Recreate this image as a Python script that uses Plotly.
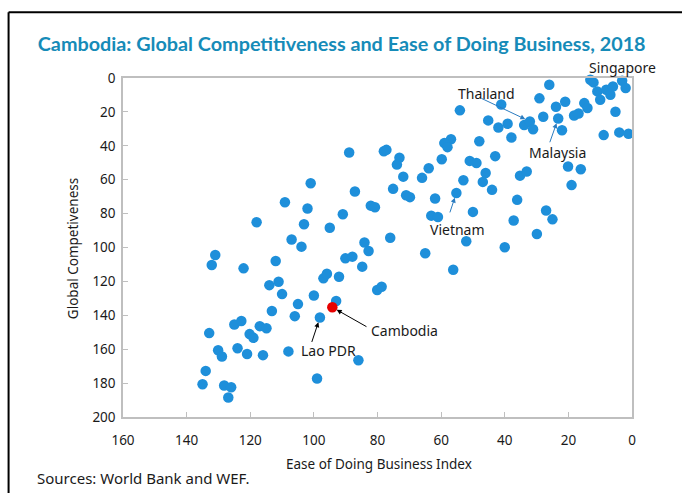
import plotly.graph_objects as go

# Ease of Doing Business (x) and Global Competitiveness (y) ranks
ease_rank = [
    131.0, 132.1, 122.1, 112.0, 107.0, 103.9, 114.0, 111.1, 110.0, 113.2,
    105.0, 106.0, 100.0, 97.0, 95.9, 92.1, 90.1, 87.9, 84.1, 82.8,
    84.8, 80.1, 78.7, 93.0, 98.1, 108.0, 86.0, 99.0, 132.9, 125.0,
    122.8, 120.2, 119.0, 117.0, 114.9, 124.0, 121.0, 116.0, 130.1, 128.9,
    134.0, 135.0, 128.2, 126.0, 126.9, 88.9, 101.0, 87.1, 109.1, 102.0,
    82.1, 80.8, 90.9, 118.0, 103.1, 95.0,
    54.1, 45.2, 48.0, 56.9, 59.0, 58.0, 78.0, 77.2, 73.1, 73.9,
    59.8, 63.9, 51.0, 48.9, 46.0, 46.9, 71.9, 66.0, 53.0, 75.1,
    71.0, 69.8, 61.9, 55.2, 63.1, 61.0, 50.0, 76.0, 52.1, 65.0,
    56.2, 40.0,
    26.0, 13.1, 12.1, 3.1, 2.0, 10.9, 8.1, 6.0, 6.8, 10.0,
    29.1, 21.0, 15.0, 14.0, 23.9, 41.1, 5.2, 18.2, 16.8, 27.9,
    23.2, 39.1, 42.0, 33.9, 32.1, 31.1, 22.0, 37.9, 8.9, 4.0,
    1.1, 43.0, 44.0, 35.2, 33.1, 20.1, 16.1, 19.0, 36.1, 27.0,
    25.0, 37.2, 29.9,
]
competitiveness = [
    104.4, 110.3, 112.3, 108.0, 95.3, 99.5, 122.2, 120.2, 127.5, 137.5,
    133.4, 140.5, 128.3, 118.2, 115.5, 117.3, 106.4, 105.4, 97.1, 102.1,
    111.3, 125.1, 123.2, 131.6, 141.3, 161.3, 166.5, 177.3, 150.5, 145.4,
    143.4, 151.1, 153.3, 146.4, 147.6, 159.4, 162.8, 163.5, 160.6, 164.3,
    172.8, 180.7, 181.4, 182.4, 188.5, 44.0, 62.1, 67.0, 73.3, 77.0,
    75.3, 76.3, 80.4, 85.1, 86.3, 88.3,
    19.1, 25.0, 37.3, 36.1, 38.4, 40.8, 43.2, 42.4, 47.1, 51.1,
    47.9, 53.2, 48.9, 50.1, 56.0, 61.3, 58.2, 58.9, 60.3, 65.4,
    69.2, 70.3, 71.1, 67.8, 81.2, 82.0, 79.0, 94.2, 96.3, 103.4,
    113.1, 99.9,
    4.0, 1.0, 2.6, 1.6, 5.9, 7.9, 6.9, 5.0, 9.9, 12.8,
    12.0, 14.0, 14.8, 17.7, 17.0, 15.6, 19.9, 22.1, 20.9, 22.9,
    23.9, 27.0, 29.2, 27.8, 25.6, 30.2, 30.8, 35.1, 33.7, 32.1,
    32.9, 46.1, 66.0, 57.6, 55.2, 52.2, 53.8, 63.2, 71.9, 78.2,
    83.4, 84.1, 92.0,
]

cambodia_x = [94.2]
cambodia_y = [135.3]

# Labelled countries (point values)
label_names = ["Singapore", "Thailand", "Malaysia", "Vietnam", "Cambodia", "Lao PDR"]
label_x = [3.1, 32.1, 23.2, 55.2, 94.2, 98.1]
label_y = [1.6, 25.6, 23.9, 67.8, 135.3, 141.3]

BLUE = "#1E8FDA"
RED = "#E60000"
TITLE_COLOR = "#168BB8"
FONT = "Noto Sans"

fig = go.Figure()
fig.add_trace(go.Scatter(
    x=ease_rank, y=competitiveness, mode="markers",
    marker=dict(color=BLUE, size=10.5, line=dict(width=0)),
    showlegend=False, hoverinfo="x+y", cliponaxis=False,
))
fig.add_trace(go.Scatter(
    x=cambodia_x, y=cambodia_y, mode="markers",
    marker=dict(color=RED, size=10.5, line=dict(width=0)),
    showlegend=False, hoverinfo="x+y",
))

# label text placement and arrow tails, per labelled country
# (ref, x, y, xanchor)
text_pos = {
    "Singapore": ("paper", 0.981, 1.032, "center"),
    "Thailand": ("data", 45.6, 9.3, "center"),
    "Malaysia": ("data", 23.5, 44.1, "center"),
    "Vietnam": ("data", 54.8, 89.2, "center"),
    "Cambodia": ("data", 82.6, 148.8, "left"),
    "Lao PDR": ("data", 95.3, 160.6, "center"),
}
arrow_tail = {
    "Singapore": (2.4, -1.5),
    "Thailand": (47.8, 11.6),
    "Malaysia": (26.0, 38.8),
    "Vietnam": (57.4, 80.2),
    "Cambodia": (83.0, 147.2),
    "Lao PDR": (100.8, 156.6),
}
arrow_color = {
    "Singapore": "#2B7CC0", "Thailand": "#2B7CC0", "Malaysia": "#2B7CC0",
    "Vietnam": "#2B7CC0", "Cambodia": "#000000", "Lao PDR": "#000000",
}

annotations = []
for name, px, py in zip(label_names, label_x, label_y):
    ref, tx, ty, anchor = text_pos[name]
    xr, yr = ("paper", "paper") if ref == "paper" else ("x", "y")
    annotations.append(dict(
        x=tx, y=ty, xref=xr, yref=yr, text=name, showarrow=False,
        xanchor=anchor, yanchor="middle",
        font=dict(family=FONT, size=14, color="#1A1A1A"),
    ))
    ax, ay = arrow_tail[name]
    annotations.append(dict(
        x=px, y=py, xref="x", yref="y", ax=ax, ay=ay, axref="x", ayref="y",
        text="", showarrow=True, arrowhead=2, arrowsize=1, arrowwidth=1,
        arrowcolor=arrow_color[name], standoff=5, startstandoff=0,
    ))

annotations += [
    dict(text="Ease of Doing Business Index", x=0.502, y=-0.14, xref="paper", yref="paper",
         showarrow=False, xanchor="center", yanchor="middle",
         font=dict(family=FONT, size=13.5, color="#1A1A1A")),
    dict(text="Global Competiveness", x=-0.099, y=0.497, xref="paper", yref="paper",
         showarrow=False, xanchor="center", yanchor="middle", textangle=-90,
         font=dict(family=FONT, size=13.5, color="#1A1A1A")),
    dict(text="Sources: World Bank and WEF.", x=-0.172, y=-0.181, xref="paper", yref="paper",
         showarrow=False, xanchor="left", yanchor="middle",
         font=dict(family=FONT, size=15, color="#1A1A1A")),
]

shapes = [
    dict(type="line", xref="paper", yref="paper", x0=-0.2248, x1=-0.2248, y0=1.194, y1=-0.35,
         line=dict(color="#000000", width=2)),
    dict(type="line", xref="paper", yref="paper", x0=-0.2248, x1=1.2, y0=1.194, y1=1.194,
         line=dict(color="#000000", width=2)),
]

axis_common = dict(
    showgrid=False, zeroline=False, showline=True, linecolor="#BFBFBF", linewidth=1.5,
    mirror=True, ticks="inside", ticklen=5, tickcolor="#BFBFBF", tickwidth=1,
    dtick=20, tickfont=dict(family=FONT, size=13.5, color="#1A1A1A"),
)

fig.update_layout(
    width=682, height=493,
    margin=dict(l=123, r=50, t=78, b=76),
    paper_bgcolor="white", plot_bgcolor="white",
    title=dict(
        text="<b>Cambodia: Global Competitiveness and Ease of Doing Business, 2018</b>",
        x=0.501, y=0.911, xref="container", yref="container", xanchor="center", yanchor="middle",
        font=dict(family="Lato", size=19.8, color=TITLE_COLOR),
    ),
    xaxis=dict(range=[160, 0], tick0=0, ticklabelstandoff=10, **axis_common),
    yaxis=dict(range=[200, 0], tick0=0, ticklabelstandoff=3, **axis_common),
    annotations=annotations,
    shapes=shapes,
)

fig.write_html(
    "out.html",
    config={"displayModeBar": False},
    post_script="document.body.style.margin='0px';document.body.style.overflow='hidden';",
)
